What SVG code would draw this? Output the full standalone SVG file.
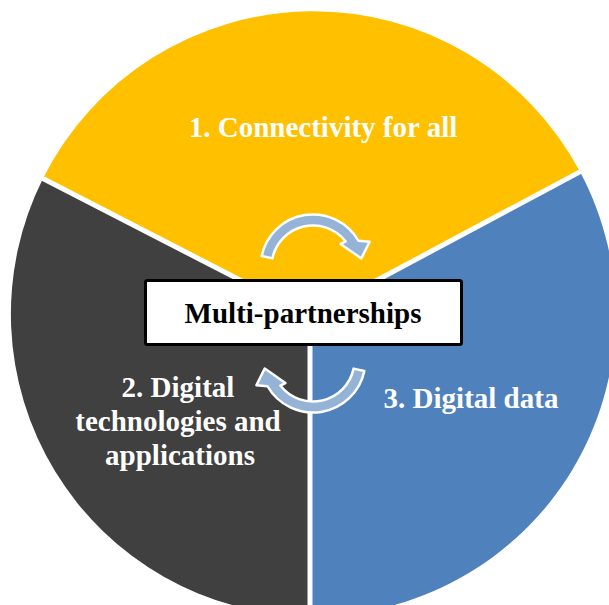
<svg xmlns="http://www.w3.org/2000/svg" width="609" height="605" viewBox="0 0 609 605">
<style>
.lbl{font-family:"Liberation Serif","Times New Roman",serif;font-weight:bold;font-size:29px;fill:#ffffff;text-anchor:middle}
.box{fill:#ffffff;stroke:#000000;stroke-width:3}
.boxtxt{font-family:"Liberation Serif","Times New Roman",serif;font-weight:bold;font-size:29px;fill:#000000;text-anchor:middle}
.sep{stroke:#ffffff;stroke-width:5;fill:none}
.arr{fill:#95B3D7;stroke:#ffffff;stroke-width:2.5;stroke-linejoin:round}
</style>
<defs>
<path id="carrow" d="M261.65,256.08 A52.5,52.5 0 0 1 358.5,240.75 L369.6,241.8 L361.3,258.5 L340.6,243.9 L345.7,241.45 A41.5,41.5 0 0 0 272.41,258.37 Z"/>
</defs>
<rect width="609" height="605" fill="#ffffff"/>
<g id="node-connectivity">
<path d="M310,316 L43,178.5 A302,302 0 0 1 580,171.8 Z" fill="#FFC000"/>
<text class="lbl" x="323" y="137">1. Connectivity for all</text>
</g>
<g id="node-digital-data">
<path d="M310,316 L580,171.8 A302,302 0 0 1 310,616 Z" fill="#4F81BD"/>
<text class="lbl" x="471" y="408">3. Digital data</text>
</g>
<g id="node-digital-tech">
<path d="M310,316 L310,616 A302,302 0 0 1 43,178.5 Z" fill="#404040"/>
<text class="lbl" x="178" y="397">2. Digital</text>
<text class="lbl" x="178" y="431">technologies and</text>
<text class="lbl" x="180" y="465">applications</text>
</g>
<g id="separators">
<line class="sep" x1="310" y1="316" x2="38" y2="176"/>
<line class="sep" x1="310" y1="316" x2="586" y2="168.6"/>
<line class="sep" x1="310" y1="316" x2="310" y2="610"/>
</g>
<g id="node-multi-partnerships">
<rect class="box" x="145.5" y="280.5" width="316" height="64" rx="2"/>
<text class="boxtxt" x="303" y="323">Multi-partnerships</text>
</g>
<g id="connectors">
<use href="#carrow" class="arr"/>
<use href="#carrow" class="arr" transform="rotate(180 313 313.5)"/>
</g>
</svg>
